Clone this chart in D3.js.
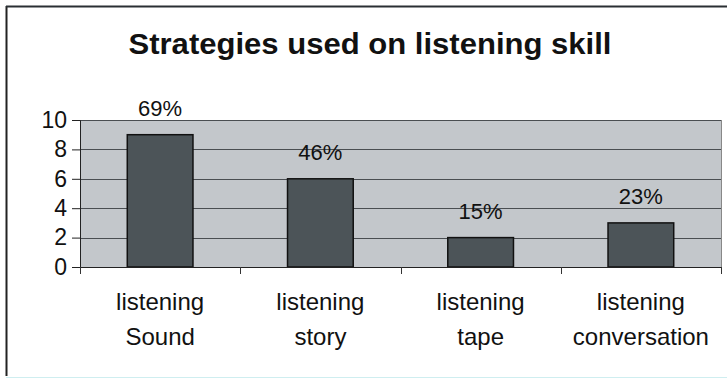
<!DOCTYPE html>
<html><head><meta charset="utf-8">
<script src="https://cdn.jsdelivr.net/npm/d3@7"></script>
<style>body{margin:0;background:#fff}svg{display:block}text{font-family:"Liberation Sans",Arial,sans-serif;fill:#111}</style>
</head><body><svg id="c" width="727" height="379"></svg>
<script>
const categories = [["listening","Sound"],["listening","story"],["listening","tape"],["listening","conversation"]];
const values = [9, 6, 2, 3];
const percentLabels = ["69%","46%","15%","23%"];
const yTicks = [0,2,4,6,8,10];
const title = "Strategies used on listening skill";

const svg = d3.select("#c");
const m = {left: 80, right: 721, top: 120, bottom: 267};

// frame
svg.append("line").attr("x1",6.5).attr("x2",6.5).attr("y1",6).attr("y2",376).attr("stroke","#222").attr("stroke-width",2);
svg.append("line").attr("x1",6).attr("x2",727).attr("y1",6.5).attr("y2",6.5).attr("stroke","#2a2f33").attr("stroke-width",2);
svg.append("line").attr("x1",6).attr("x2",727).attr("y1",377.5).attr("y2",377.5).attr("stroke","#cfeef0").attr("stroke-width",1);

svg.append("text").attr("x",370).attr("y",54).attr("text-anchor","middle")
  .attr("textLength",483).attr("lengthAdjust","spacingAndGlyphs")
  .style("font-size","29px").style("font-weight","bold").text(title);

const x = d3.scaleBand().domain(d3.range(categories.length)).range([m.left, m.right]).paddingInner(0.59).paddingOuter(0.295);
const y = d3.scaleLinear().domain([0,10]).range([m.bottom, m.top]);

svg.append("rect").attr("x",m.left).attr("y",m.top).attr("width",m.right-m.left).attr("height",m.bottom-m.top).attr("fill","#c3c7cb");

// gridlines
svg.append("g").selectAll("line").data(yTicks.filter(d=>d>0)).join("line")
  .attr("x1",m.left).attr("x2",m.right).attr("y1",d=>Math.round(y(d))+0.5).attr("y2",d=>Math.round(y(d))+0.5)
  .attr("stroke","#4a4e52").attr("stroke-width",1);

svg.append("line").attr("x1",m.right+0.5).attr("x2",m.right+0.5).attr("y1",m.top).attr("y2",m.bottom).attr("stroke","#888");

// bars
svg.append("g").selectAll("rect").data(values).join("rect")
  .attr("x",(d,i)=>x(i)).attr("width",x.bandwidth())
  .attr("y",d=>y(d)).attr("height",d=>y(0)-y(d))
  .attr("fill","#4c5458").attr("stroke","#111").attr("stroke-width",1.5);

// percent labels
svg.append("g").selectAll("text").data(values).join("text")
  .attr("x",(d,i)=>x(i)+x.bandwidth()/2).attr("y",d=>y(d)-19)
  .attr("text-anchor","middle").style("font-size","22px").text((d,i)=>percentLabels[i]);

// y axis
const yAxis = d3.axisLeft(y).tickValues(yTicks).tickSize(8).tickPadding(5);
const gy = svg.append("g").attr("transform",`translate(${m.left},0)`).call(yAxis);
gy.select(".domain").attr("stroke","#222");
gy.selectAll(".tick line").attr("stroke","#222");
gy.selectAll(".tick text").style("font-size","23px").attr("fill","#111").attr("font-family","Liberation Sans, Arial, sans-serif");

// x axis
const xEdges = d3.scaleLinear().domain([0,categories.length]).range([m.left,m.right]);
const gx = svg.append("g").attr("transform",`translate(0,${m.bottom})`);
gx.append("line").attr("x1",m.left-8).attr("x2",m.right).attr("y1",0.5).attr("y2",0.5).attr("stroke","#222");
gx.selectAll("line.t").data(d3.range(categories.length+1)).join("line").attr("class","t")
  .attr("x1",d=>Math.round(xEdges(d))+0.5).attr("x2",d=>Math.round(xEdges(d))+0.5).attr("y1",0).attr("y2",7).attr("stroke","#333");

const labels = svg.append("g").selectAll("text").data(categories).join("text")
  .attr("text-anchor","middle").style("font-size","24px")
  .attr("transform",(d,i)=>`translate(${x(i)+x.bandwidth()/2},0)`);
labels.selectAll("tspan").data(d=>d).join("tspan").attr("x",0).attr("y",(d,j)=>310+j*35).text(d=>d);
</script></body></html>
